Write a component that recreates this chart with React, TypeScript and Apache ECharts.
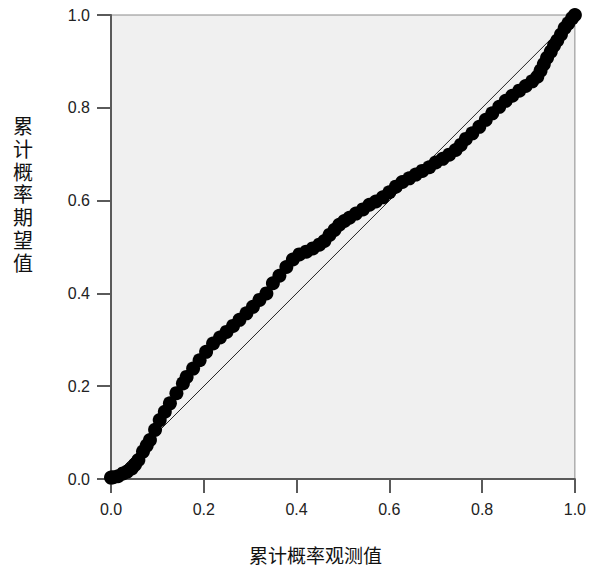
import React, { useEffect, useRef } from "react";
import * as echarts from "echarts";

const observed = [
  0.0, 0.005, 0.015, 0.026, 0.035, 0.045, 0.052, 0.059, 0.069, 0.077,
  0.084, 0.095, 0.105, 0.116, 0.127, 0.141, 0.155, 0.163, 0.177, 0.191,
  0.205, 0.22, 0.235, 0.249, 0.263, 0.277, 0.292, 0.306, 0.32, 0.335,
  0.349, 0.363, 0.378, 0.392, 0.406, 0.421, 0.435, 0.449, 0.46, 0.471,
  0.482, 0.492, 0.503, 0.514, 0.528, 0.543, 0.557, 0.571, 0.586, 0.6,
  0.614, 0.628, 0.643, 0.657, 0.671, 0.686, 0.7, 0.715, 0.729, 0.743,
  0.754, 0.765, 0.779, 0.794, 0.808, 0.822, 0.837, 0.851, 0.865, 0.88,
  0.894, 0.908, 0.919, 0.926, 0.933, 0.94, 0.948, 0.955, 0.962, 0.97,
  0.978, 0.986, 0.994, 1.0,
];
const expected = [
  0.003, 0.004, 0.006, 0.012, 0.016, 0.023, 0.031, 0.041, 0.059, 0.072,
  0.084, 0.106, 0.127, 0.145, 0.163, 0.185, 0.206, 0.22, 0.238, 0.256,
  0.274, 0.292, 0.305, 0.317, 0.33, 0.343, 0.357, 0.371, 0.386, 0.4,
  0.422, 0.438, 0.457, 0.473, 0.484, 0.49, 0.497, 0.505, 0.513, 0.526,
  0.537, 0.548, 0.556, 0.563, 0.572, 0.581, 0.591, 0.598, 0.607, 0.618,
  0.63, 0.64, 0.648, 0.656, 0.664, 0.672, 0.682, 0.69, 0.699, 0.709,
  0.72, 0.733, 0.745, 0.759, 0.774, 0.788, 0.802, 0.815, 0.826, 0.837,
  0.847, 0.857, 0.867, 0.88, 0.894, 0.908, 0.921, 0.934, 0.945, 0.958,
  0.972, 0.982, 0.993, 1.0,
];
const referenceLine = [
  [0, 0],
  [1, 1],
];
const xTitle = "累计概率观测值";
const yTitle = "累计概率期望值";

export default function App() {
  const ref = useRef<HTMLDivElement>(null);
  useEffect(() => {
    if (!ref.current) return;
    const chart = echarts.init(ref.current, null, { renderer: "svg" });
    const points = observed.map((x, i) => [x, expected[i]]);
    const tickFont = {
      fontFamily: "Liberation Sans",
      fontSize: 16,
      color: "#222",
    };
    const cjkFont = "Liberation Sans, Noto Sans CJK SC";
    chart.setOption({
      animation: false,
      backgroundColor: "#ffffff",
      grid: {
        left: 111,
        top: 15,
        width: 465,
        height: 464,
        show: true,
        backgroundColor: "#f0f0f0",
        borderColor: "#8a8a8a",
        borderWidth: 1,
      },
      xAxis: {
        type: "value",
        min: 0,
        max: 1,
        interval: 0.2,
        splitLine: { show: false },
        axisLine: { show: true, lineStyle: { color: "#5a5a5a", width: 2 } },
        axisTick: { show: true, length: 14, lineStyle: { color: "#5a5a5a", width: 2 } },
        axisLabel: { ...tickFont, margin: 22, formatter: (v: number) => v.toFixed(1) },
      },
      yAxis: {
        type: "value",
        min: 0,
        max: 1,
        interval: 0.2,
        splitLine: { show: false },
        axisLine: { show: true, lineStyle: { color: "#5a5a5a", width: 2 } },
        axisTick: { show: true, length: 14, lineStyle: { color: "#5a5a5a", width: 2 } },
        axisLabel: { ...tickFont, margin: 21, formatter: (v: number) => v.toFixed(1) },
      },
      series: [
        {
          type: "line",
          data: referenceLine,
          symbol: "none",
          lineStyle: { color: "#222", width: 1 },
          z: 2,
        },
        {
          type: "scatter",
          data: points,
          symbol: "circle",
          symbolSize: 14,
          itemStyle: { color: "#000", borderColor: "#000", borderWidth: 0, opacity: 1 },
          z: 3,
        },
      ],
      graphic: [
        {
          type: "text",
          left: 249,
          top: 547,
          style: {
            text: xTitle,
            fontFamily: cjkFont,
            fontSize: 19,
            fill: "#111",
          },
        },
        {
          type: "text",
          left: 13,
          top: 116,
          style: {
            text: yTitle.split("").join("\n"),
            fontFamily: cjkFont,
            fontSize: 20,
            lineHeight: 22.7,
            fill: "#111",
          },
        },
      ],
    });
    return () => chart.dispose();
  }, []);
  return (
    <div
      ref={ref}
      style={{ position: "fixed", left: 0, top: 0, width: 589, height: 573 }}
    />
  );
}
